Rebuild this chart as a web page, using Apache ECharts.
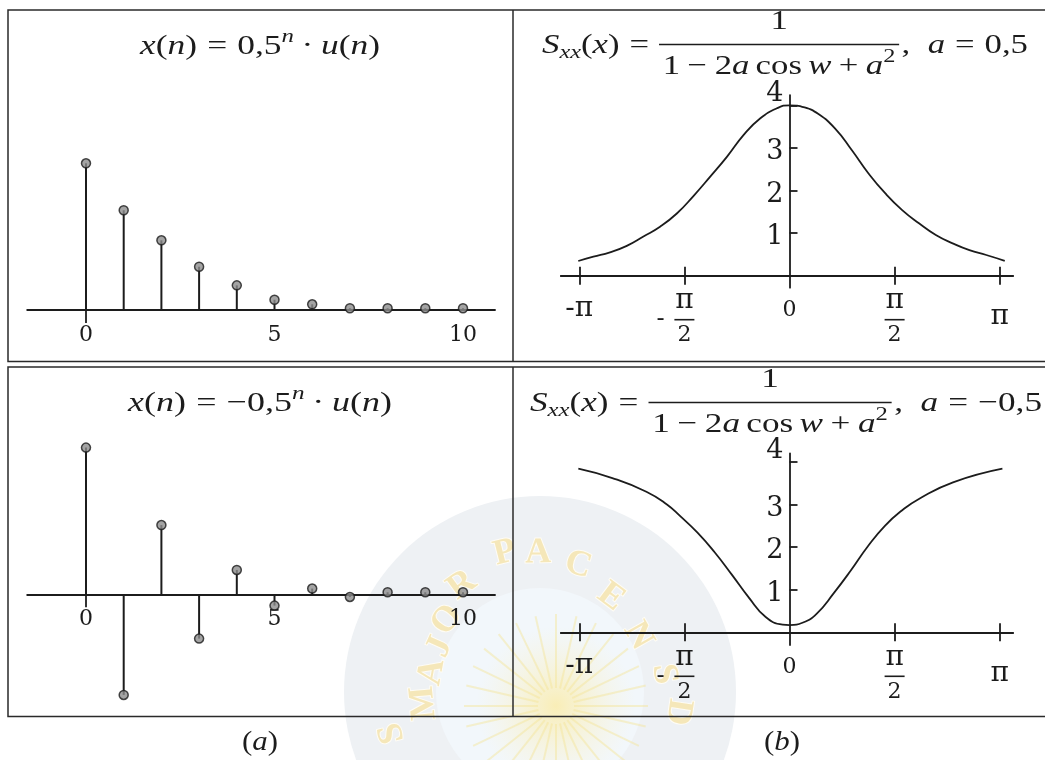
<!DOCTYPE html>
<html>
<head>
<meta charset="utf-8">
<script src="https://cdn.jsdelivr.net/npm/echarts@6/dist/echarts.min.js"></script>
<style>
  html, body { margin: 0; padding: 0; background: #ffffff; }
  #c { width: 1045px; height: 760px; }
</style>
</head>
<body>
<div id="c"></div>
<script>
// ---- discrete sequences x(n), n = 0..10 (scaled so that x(0) = 1) ----
const nValues = [0, 1, 2, 3, 4, 5, 6, 7, 8, 9, 10];
const seqPositive = [1, 0.68, 0.475, 0.295, 0.168, 0.07, 0.039, 0.012, 0.012, 0.012, 0.012];
const seqAlternating = [1, -0.686, 0.472, -0.302, 0.166, -0.077, 0.039, -0.018, 0.014, 0.014, 0.014];
const nTickValues = [0, 5, 10];
const nTickLabels = ['0', '5', '10'];

// ---- spectral densities S_xx(w), w in radians ----
const wPos = [-3.157, -2.931, -2.683, -2.432, -2.183, -1.935, -1.684, -1.436, -1.188, -0.936, -0.688, -0.440, -0.188, 0,
              0.226, 0.427, 0.679, 0.930, 1.181, 1.433, 1.684, 1.935, 2.187, 2.438, 2.689, 2.941, 3.217];
const sPos = [0.345, 0.446, 0.55, 0.70, 0.92, 1.15, 1.46, 1.87, 2.32, 2.79, 3.30, 3.69, 3.93, 4.0,
              3.95, 3.80, 3.46, 2.95, 2.40, 1.93, 1.54, 1.23, 0.955, 0.76, 0.60, 0.486, 0.35];
const wNeg = [-3.156, -2.648, -2.139, -1.832, -1.629, -1.375, -1.119, -0.865, -0.610, -0.356, -0.102, 0,
              0.203, 0.408, 0.662, 0.916, 1.172, 1.426, 1.680, 1.934, 2.444, 3.182];
const sNeg = [3.84, 3.62, 3.30, 3.00, 2.72, 2.34, 1.88, 1.36, 0.82, 0.36, 0.18, 0.17,
              0.23, 0.44, 0.92, 1.45, 2.02, 2.50, 2.86, 3.13, 3.52, 3.84];
const wTickValues = [-Math.PI, -Math.PI / 2, 0, Math.PI / 2, Math.PI];
const wTickLabels = ['-π', '-π/2', '0', 'π/2', 'π'];
const wTickMarks = [-Math.PI, -Math.PI / 2, Math.PI / 2, Math.PI];
const sTickValues = [1, 2, 3, 4];

// ---- watermark seal lettering ----
const sealLetters = ['S', 'M', 'A', 'J', 'O', 'R', 'P', 'A', 'C', 'E', 'N', 'S', 'D'];
const sealLetterX = [392, 424, 432, 440, 447, 462, 505, 538, 578, 611, 638, 664, 678];
const sealLetterY = [733, 703, 672, 647, 620, 585, 553, 553, 565, 597, 636, 674, 712];

const INK = '#1c1c1c';
const SERIF = '"Liberation Serif", "DejaVu Serif", serif';
const DJ = '"DejaVu Serif", "Liberation Serif", serif';

// grid rectangle from an origin in pixels and pixels per data unit
function gridBox(x0, sx, xr, y0, sy, yr) {
  return {
    left: x0 + xr.min * sx, width: (xr.max - xr.min) * sx,
    top: y0 - yr.max * sy, height: (yr.max - yr.min) * sy,
    containLabel: false, outerBoundsMode: 'none'
  };
}

const SEQ_X = { min: -1.56, max: 10.85 };
const SEQ1_Y = { min: -0.3, max: 1.4 };
const SEQ2_Y = { min: -0.9, max: 1.2 };
const SPX = 37.7, SPY = 146.7;
const W_X = { min: -3.415, max: 3.34 };
const S1_Y = { min: -0.28, max: 4.24 };
const S2_Y = { min: -0.3, max: 4.2 };
const WPX = 210.2 / Math.PI, WPY = 42.6;

const grids = [
  gridBox(86, SPX, SEQ_X, 310, SPY, SEQ1_Y),
  gridBox(86, SPX, SEQ_X, 594.3, SPY, SEQ2_Y),
  gridBox(789.5, WPX, W_X, 275.7, WPY, S1_Y),
  gridBox(789.5, WPX, W_X, 632.3, WPY, S2_Y)
];

const axisLineStyle = { color: INK, width: 1.8 };

// the horizontal axes sit on the zero line of the value axis: shift them there
function seqXAxis(gi, yr) {
  return {
    gridIndex: gi, type: 'value', min: SEQ_X.min, max: SEQ_X.max,
    position: 'bottom', offset: yr.min * SPY,
    axisLine: { show: true, onZero: false, lineStyle: axisLineStyle },
    axisTick: { show: true, customValues: [0], length: 13, lineStyle: axisLineStyle },
    axisLabel: {
      customValues: nTickValues,
      formatter: v => nTickLabels[nTickValues.indexOf(v)],
      margin: 0, lineHeight: 50, fontSize: 22, fontFamily: DJ, color: INK
    },
    splitLine: { show: false }
  };
}

// tick label of the w axis as rich text (fractions stacked over a bar)
function wRich(label) {
  if (label.indexOf('/') >= 0) {
    const neg = label[0] === '-';
    const body = neg ? label.slice(1) : label;
    const [num, den] = body.split('/');
    if (neg) {
      return '{gh|}{num|' + num + '}{gh|}\n{neg|-}{bar|}{gh|}\n{gh|}{den|' + den + '}{gh|}';
    }
    return '{num|' + num + '}\n{bar|}\n{den|' + den + '}';
  }
  if (label === '0') return '{zero|0}';
  if (label[0] === '-') return '{mpi|' + label + '}';
  return '{ppi|' + label + '}';
}

const wLabelRich = {
  num: { fontSize: 28, fontFamily: DJ, lineHeight: 30, color: INK },
  den: { fontSize: 22, fontFamily: DJ, lineHeight: 24, color: INK },
  bar: { width: 20, height: 1.6, lineHeight: 8, backgroundColor: INK },
  neg: { width: 18, fontSize: 24, fontFamily: DJ, lineHeight: 8, align: 'left', color: INK },
  gh: { width: 18, lineHeight: 8 },
  zero: { fontSize: 22, fontFamily: DJ, lineHeight: 49, color: INK },
  mpi: { fontSize: 28, fontFamily: DJ, lineHeight: 47, color: INK },
  ppi: { fontSize: 28, fontFamily: DJ, lineHeight: 63, color: INK }
};

function wXAxis(gi, yr, pos) {
  const bottom = pos === 'bottom';
  return {
    gridIndex: gi, type: 'value', min: W_X.min, max: W_X.max, position: pos,
    offset: bottom ? yr.min * WPY : -yr.max * WPY,
    axisLine: { show: true, onZero: false, lineStyle: axisLineStyle },
    axisTick: { show: true, customValues: wTickMarks, length: 9, lineStyle: axisLineStyle },
    axisLabel: bottom ? {
      customValues: wTickValues,
      formatter: v => wRich(wTickLabels[wTickValues.findIndex(t => Math.abs(t - v) < 1e-6)]),
      margin: 10, rich: wLabelRich
    } : { show: false },
    splitLine: { show: false }
  };
}

function sYAxis(gi, yr) {
  return {
    gridIndex: gi, type: 'value', min: yr.min, max: yr.max,
    position: 'left', offset: W_X.min * WPX,
    axisLine: { show: true, onZero: false, lineStyle: axisLineStyle },
    axisTick: { show: true, inside: true, length: 8, customValues: sTickValues, lineStyle: axisLineStyle },
    axisLabel: {
      customValues: sTickValues,
      formatter: v => v === sTickValues[sTickValues.length - 1] ? '{n|' + v + '}\n{g22|}' : '{g8|}\n{n|' + v + '}',
      margin: 6,
      rich: {
        n: { fontSize: 27, fontFamily: DJ, lineHeight: 27, color: INK },
        g8: { lineHeight: 8 },
        g22: { lineHeight: 22 }
      }
    },
    splitLine: { show: false }
  };
}

// ---- formula typesetting with graphic text pieces ----
const mctx = document.createElement('canvas').getContext('2d');
const MATH_PX = 28;
function fnt(px, it) { return (it ? 'italic ' : '') + px + 'px ' + SERIF; }
function tw(t, px, it) { mctx.font = fnt(px, it); return mctx.measureText(t).width; }
function runWidth(run) {
  return run.reduce((w, p) => w + (p.frac ? fracWidth(p) : tw(p.t, MATH_PX * (p.s || 1), p.i)) + (p.g || 0), 0);
}
function fracWidth(p) { return Math.max(runWidth(p.num), runWidth(p.den)) + 6; }
function layRun(run, x, cy, k, out) {
  for (const p of run) {
    if (p.frac) {
      const w = fracWidth(p);
      layRun(p.num, x + (w - runWidth(p.num)) / 2 * k, cy - 24, k, out);
      layRun(p.den, x + (w - runWidth(p.den)) / 2 * k, cy + 21, k, out);
      out.push({ type: 'line', z: 20, shape: { x1: x, y1: cy - 1.5, x2: x + w * k, y2: cy - 1.5 },
                 style: { stroke: INK, lineWidth: 1.4 } });
      x += (w + (p.g || 0)) * k;
    } else {
      const px = MATH_PX * (p.s || 1);
      out.push({ type: 'text', z: 20, x: x, y: cy + (p.dy || 0), scaleX: k,
                 style: { text: p.t, font: fnt(px, p.i), fill: INK,
                          align: 'left', verticalAlign: 'middle', textAlign: 'left', textVerticalAlign: 'middle' } });
      x += (tw(p.t, px, p.i) + (p.g || 0)) * k;
    }
  }
  return x;
}
function formula(run, x0, cy, targetWidth, centered) {
  const w = runWidth(run);
  const k = targetWidth / w;
  const out = [];
  layRun(run, centered ? x0 - targetWidth / 2 : x0, cy, k, out);
  return out;
}

const seqTitle = lead => [
  { t: 'x', i: 1 }, { t: '(' }, { t: 'n', i: 1 }, { t: ')', g: 8 }, { t: '=', g: 8 }, { t: lead },
  { t: 'n', i: 1, s: 0.7, dy: -10, g: 6 }, { t: '·', g: 6 }, { t: 'u', i: 1 }, { t: '(' }, { t: 'n', i: 1 }, { t: ')' }
];
const densTitle = aval => [
  { t: 'S', i: 1 }, { t: 'xx', i: 1, s: 0.7, dy: 7 }, { t: '(' }, { t: 'x', i: 1 }, { t: ')', g: 8 }, { t: '=', g: 8 },
  { frac: 1, g: 2, num: [{ t: '1' }],
    den: [{ t: '1', g: 6 }, { t: '−', g: 6 }, { t: '2' }, { t: 'a', i: 1, g: 5 }, { t: 'cos', g: 5 },
          { t: 'w', i: 1, g: 6 }, { t: '+', g: 6 }, { t: 'a', i: 1 }, { t: '2', s: 0.7, dy: -10 }] },
  { t: ',', g: 14 }, { t: 'a', i: 1, g: 8 }, { t: '=', g: 8 }, { t: aval }
];
const panelTag = letter => [{ t: '(' }, { t: letter, i: 1 }, { t: ')' }];

// ---- faint watermark seal behind the lower panels ----
const SEAL_C = [540, 692];
const seal = [
  { type: 'circle', z: -10, shape: { cx: SEAL_C[0], cy: SEAL_C[1], r: 196 }, style: { fill: '#eef1f4' } },
  { type: 'circle', z: -9, shape: { cx: SEAL_C[0], cy: SEAL_C[1], r: 104 }, style: { fill: '#f2f7fb' } },
  { type: 'circle', z: -8, shape: { cx: 556, cy: 706, r: 80 },
    style: { fill: new echarts.graphic.RadialGradient(0.5, 0.5, 0.5, [
      { offset: 0, color: 'rgba(250,236,170,0.85)' }, { offset: 1, color: 'rgba(250,242,210,0)' }]) } }
];
for (let i = 0; i < 28; i++) {
  const a = i / 28 * Math.PI * 2;
  seal.push({ type: 'line', z: -7,
    shape: { x1: 556 + 18 * Math.cos(a), y1: 706 + 18 * Math.sin(a), x2: 556 + 92 * Math.cos(a), y2: 706 + 92 * Math.sin(a) },
    style: { stroke: 'rgba(245,228,150,0.45)', lineWidth: 2 } });
}
sealLetters.forEach((ch, i) => {
  const th = Math.atan2(sealLetterY[i] - SEAL_C[1], sealLetterX[i] - SEAL_C[0]);
  seal.push({ type: 'text', z: -6, x: sealLetterX[i], y: sealLetterY[i], rotation: -(th + Math.PI / 2),
    style: { text: ch, font: 'bold 36px ' + SERIF, fill: '#f5e7b9', stroke: '#fefcf5', lineWidth: 2,
             align: 'center', verticalAlign: 'middle', textAlign: 'center', textVerticalAlign: 'middle' } });
});

// ---- panel frames ----
const frameStyle = { stroke: '#2a2a2a', lineWidth: 1.5, fill: null };
const frames = [
  { type: 'rect', z: 15, shape: { x: 8, y: 10, width: 1045, height: 351.5 }, style: frameStyle },
  { type: 'rect', z: 15, shape: { x: 8, y: 367, width: 1045, height: 349.5 }, style: frameStyle },
  { type: 'line', z: 15, shape: { x1: 513, y1: 10, x2: 513, y2: 361.5 }, style: frameStyle },
  { type: 'line', z: 15, shape: { x1: 513, y1: 367, x2: 513, y2: 716.5 }, style: frameStyle }
];

const texts = [].concat(
  formula(seqTitle('0,5'), 260, 47, 240, true),
  formula(seqTitle('−0,5'), 260, 404, 264, true),
  formula(densTitle('0,5'), 542, 46, 486, false),
  formula(densTitle('−0,5'), 530, 404, 512, false),
  formula(panelTag('a'), 260, 743, 36, true),
  formula(panelTag('b'), 782, 743, 36, true)
);

const stemStyle = { color: INK };
const markerStyle = { color: '#8d8d8d', borderColor: INK, borderWidth: 1.5 };
const curveStyle = { color: INK, width: 1.8 };

const option = {
  animation: false,
  backgroundColor: '#ffffff',
  grid: grids,
  xAxis: [
    seqXAxis(0, SEQ1_Y), seqXAxis(1, SEQ2_Y),
    wXAxis(2, S1_Y, 'bottom'), wXAxis(2, S1_Y, 'top'),
    wXAxis(3, S2_Y, 'bottom'), wXAxis(3, S2_Y, 'top')
  ],
  yAxis: [
    { gridIndex: 0, type: 'value', min: SEQ1_Y.min, max: SEQ1_Y.max, show: false },
    { gridIndex: 1, type: 'value', min: SEQ2_Y.min, max: SEQ2_Y.max, show: false },
    sYAxis(2, S1_Y),
    sYAxis(3, S2_Y)
  ],
  series: [
    { type: 'bar', xAxisIndex: 0, yAxisIndex: 0, barWidth: 2, itemStyle: stemStyle, silent: true,
      data: nValues.map((n, i) => [n, seqPositive[i]]) },
    { type: 'scatter', xAxisIndex: 0, yAxisIndex: 0, symbol: 'circle', symbolSize: 9, itemStyle: markerStyle, z: 5,
      data: nValues.map((n, i) => [n, seqPositive[i]]) },
    { type: 'bar', xAxisIndex: 1, yAxisIndex: 1, barWidth: 2, itemStyle: stemStyle, silent: true,
      data: nValues.map((n, i) => [n, seqAlternating[i]]) },
    { type: 'scatter', xAxisIndex: 1, yAxisIndex: 1, symbol: 'circle', symbolSize: 9, itemStyle: markerStyle, z: 5,
      data: nValues.map((n, i) => [n, seqAlternating[i]]) },
    { type: 'line', xAxisIndex: 2, yAxisIndex: 2, smooth: 0.5, showSymbol: false,
      lineStyle: curveStyle, data: wPos.map((w, i) => [w, sPos[i]]) },
    { type: 'line', xAxisIndex: 4, yAxisIndex: 3, smooth: 0.5, showSymbol: false,
      lineStyle: curveStyle, data: wNeg.map((w, i) => [w, sNeg[i]]) }
  ],
  graphic: { elements: [].concat(seal, frames, texts) }
};

const chart = echarts.init(document.getElementById('c'), null, { renderer: 'canvas' });
chart.setOption(option);
</script>
</body>
</html>
